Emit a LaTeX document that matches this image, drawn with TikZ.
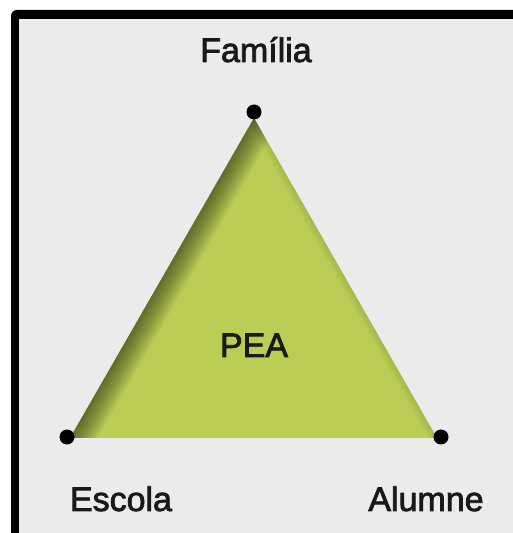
\documentclass[tikz,border=0pt]{standalone}
\usepackage{fontspec}
\newfontfamily\labelfont{Liberation Sans}[FakeBold=2.2]
\usetikzlibrary{positioning}
\definecolor{panelgray}{RGB}{235,235,235}
\definecolor{peagreen}{RGB}{188,205,86}
\begin{document}
\begin{tikzpicture}[
  x=1pt, y=1pt,
  font=\labelfont\fontsize{34}{40}\selectfont,
  vertex/.style={circle, fill=black, minimum size=15pt, inner sep=0pt},
  label/.style={anchor=base, inner sep=0pt, text=black!90}
]
\useasboundingbox (0,0) rectangle (513,533);
% panel with thick frame on top and left
\fill[black, rounded corners=6pt] (11,523) rectangle (540,-20);
\fill[panelgray] (19,514) rectangle (540,-20);

% corners of the triangle
\coordinate (top) at (254,415);
\coordinate (left) at (70,95);
\coordinate (right) at (437,95);

\fill[peagreen] (top) -- (left) -- (right) -- cycle;
\begin{scope}
  \clip (top) -- (left) -- (right) -- cycle;
  \foreach \w in {3,6,...,48}
    \draw[line width=\w pt, black, opacity=0.035] (left) -- (top);
  \foreach \w in {3,6,...,15}
    \draw[line width=\w pt, black, opacity=0.02] (top) -- (right);
\end{scope}

\node[vertex] (familia) at (254,421) {};
\node[vertex] (escola) at (67,96) {};
\node[vertex] (alumne) at (441,96) {};

\node[label] (tfamilia) at (256,471) {Família};
\node[label] (pea) at (254,176) {PEA};
\node[label] (tescola) at (121,22) {Escola};
\node[label] (talumne) at (426,22) {Alumne};
\end{tikzpicture}
\end{document}
